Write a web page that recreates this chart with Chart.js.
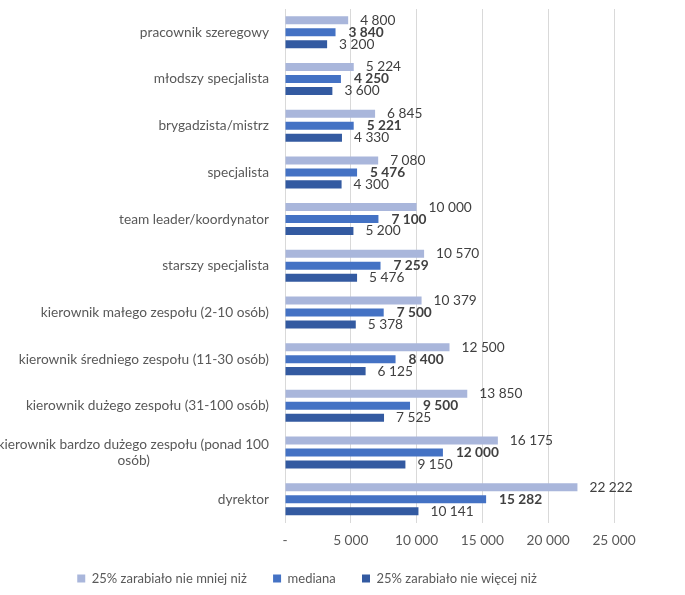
<!DOCTYPE html>
<html>
<head>
<meta charset="utf-8">
<script src="https://cdn.jsdelivr.net/npm/chart.js@4/dist/chart.umd.min.js"></script>
<style>
html,body{margin:0;padding:0;background:#fff;}
#wrap{width:685px;height:595px;}
</style>
</head>
<body>
<div id="wrap"><canvas id="c" width="685" height="595"></canvas></div>
<script>
const categories = [
  "pracownik szeregowy",
  "młodszy specjalista",
  "brygadzista/mistrz",
  "specjalista",
  "team leader/koordynator",
  "starszy specjalista",
  "kierownik małego zespołu (2-10 osób)",
  "kierownik średniego zespołu (11-30 osób)",
  "kierownik dużego zespołu (31-100 osób)",
  ["kierownik bardzo dużego zespołu (ponad 100", "osób)"],
  "dyrektor"
];
const seriesNames = ["25% zarabiało nie mniej niż", "mediana", "25% zarabiało nie więcej niż"];
const top25 = [4800, 5224, 6845, 7080, 10000, 10570, 10379, 12500, 13850, 16175, 22222];
const median = [3840, 4250, 5221, 5476, 7100, 7259, 7500, 8400, 9500, 12000, 15282];
const bottom25 = [3200, 3600, 4330, 4300, 5200, 5476, 5378, 6125, 7525, 9150, 10141];
const xTicks = [0, 5000, 10000, 15000, 20000, 25000];

const FONT = "Lato, 'Liberation Sans', sans-serif";
const FS = 13.7;
const LFS = 13;
const fmt = n => n === 0 ? '-' : String(n).replace(/\B(?=(\d{3})+(?!\d))/g, ' ');

const mctx = document.createElement('canvas').getContext('2d');
function centerLines(lines) {
  mctx.font = FS + 'px ' + FONT;
  const w = lines.map(l => mctx.measureText(l).width);
  const maxW = Math.max(...w);
  const sp = mctx.measureText(' ').width;
  return lines.map((l, i) => l + ' '.repeat(Math.round((maxW - w[i]) / 2 / sp)));
}

const valueLabels = {
  id: 'valueLabels',
  afterDatasetsDraw(chart) {
    const ctx = chart.ctx;
    ctx.save();
    ctx.textBaseline = 'middle';
    ctx.textAlign = 'left';
    chart.data.datasets.forEach((ds, di) => {
      const meta = chart.getDatasetMeta(di);
      ctx.font = (di === 1 ? 'bold ' : '') + FS + 'px ' + FONT;
      ctx.fillStyle = '#404040';
      meta.data.forEach((el, i) => {
        ctx.fillText(fmt(ds.data[i]), el.x + (di === 1 ? 13 : 12), el.y);
      });
    });
    ctx.restore();
  }
};

new Chart(document.getElementById('c'), {
  type: 'bar',
  data: {
    labels: categories,
    datasets: [
      { label: seriesNames[0], data: top25, backgroundColor: '#a9b6db' },
      { label: seriesNames[1], data: median, backgroundColor: '#4472c4' },
      { label: seriesNames[2], data: bottom25, backgroundColor: '#335aa1' }
    ]
  },
  options: {
    indexAxis: 'y',
    responsive: false,
    animation: false,
    devicePixelRatio: 1,
    categoryPercentage: 0.77,
    barPercentage: 0.67,
    layout: { padding: { top: 9, right: 71, bottom: 0, left: 0 } },
    scales: {
      x: {
        min: 0, max: 25000,
        afterBuildTicks: s => { s.ticks = xTicks.map(v => ({ value: v })); },
        afterFit: s => { s.paddingLeft = 0; s.paddingRight = 0; },
        grid: { color: '#d9d9d9', lineWidth: 1, drawTicks: false },
        border: { display: false },
        ticks: { color: '#595959', font: { family: FONT, size: FS, lineHeight: 1.2 }, padding: 10, maxRotation: 0, callback: v => fmt(v) }
      },
      y: {
        grid: { display: false, drawTicks: false },
        border: { display: false },
        afterFit: s => { s.width = 285; s.paddingTop = 0; s.paddingBottom = 0; },
        ticks: {
          color: '#595959',
          font: { family: FONT, size: FS, lineHeight: 1.2 },
          padding: 16,
          autoSkip: false,
          callback: function (v) {
            const l = categories[v];
            return Array.isArray(l) ? centerLines(l) : l;
          }
        }
      }
    },
    plugins: {
      legend: {
        position: 'bottom',
        labels: {
          color: '#595959',
          font: { family: FONT, size: LFS, lineHeight: 1.2 },
          boxWidth: 8, boxHeight: 8,
          padding: 13,
          generateLabels: chart => Chart.defaults.plugins.legend.labels.generateLabels(chart)
            .map((l, i) => Object.assign(l, { text: l.text + (i < 2 ? '    ' : '') }))
        }
      },
      tooltip: { enabled: false }
    }
  },
  plugins: [valueLabels]
});
</script>
</body>
</html>
